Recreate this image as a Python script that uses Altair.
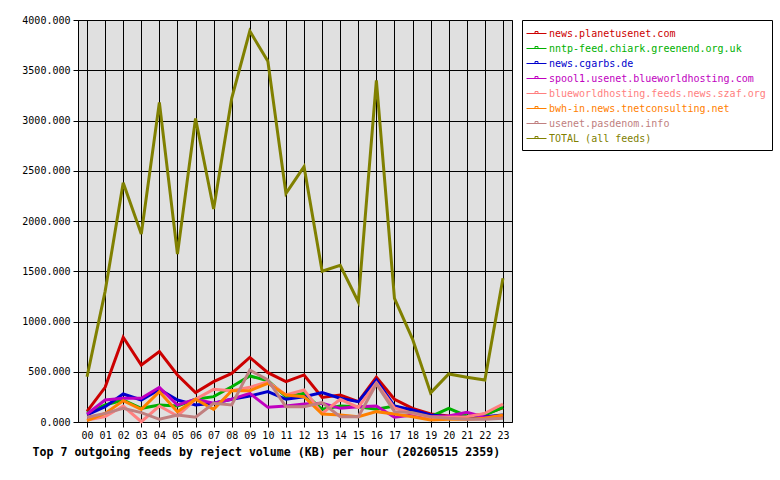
import altair as alt
import pandas as pd

hours = list(range(24))
series_names = [
    "news.planetusenet.com",
    "nntp-feed.chiark.greenend.org.uk",
    "news.cgarbs.de",
    "spool1.usenet.blueworldhosting.com",
    "blueworldhosting.feeds.news.szaf.org",
    "bwh-in.news.tnetconsulting.net",
    "usenet.pasdenom.info",
    "TOTAL (all feeds)",
]
series_colors = ["#cc0000", "#00b000", "#0000cc", "#c000c0", "#ff8080", "#ff8000", "#c08080", "#808000"]

planetusenet = [105, 345, 843, 567, 700, 468, 292, 401, 484, 643, 491, 401, 468, 245, 269, 202, 445, 226, 136, 80, 60, 53, 80, 140]
chiark = [90, 169, 219, 136, 169, 159, 226, 252, 351, 458, 411, 252, 285, 126, 159, 152, 126, 159, 103, 53, 136, 60, 70, 146]
cgarbs = [70, 152, 279, 219, 325, 219, 169, 186, 226, 259, 302, 226, 252, 292, 236, 202, 418, 159, 119, 70, 53, 47, 53, 70]
spool1 = [80, 219, 236, 236, 345, 169, 226, 186, 226, 285, 146, 159, 179, 186, 136, 152, 159, 47, 70, 53, 60, 96, 47, 53]
szaf = [20, 53, 159, 3, 159, 60, 226, 325, 312, 345, 401, 269, 318, 86, 226, 146, 391, 140, 86, 47, 47, 53, 86, 179]
tnet = [13, 86, 212, 126, 302, 103, 226, 126, 312, 312, 385, 269, 252, 80, 70, 53, 103, 80, 53, 20, 27, 27, 37, 70]
pasdenom = [47, 86, 136, 93, 27, 70, 47, 186, 169, 517, 418, 152, 152, 193, 53, 53, 378, 103, 93, 53, 37, 27, 27, 37]
total = [450, 1300, 2380, 1870, 3180, 1670, 3020, 2120, 3220, 3890, 3590, 2275, 2540, 1500, 1560, 1195, 3400, 1230, 825, 290, 478, 445, 418, 1430]

y_ticks = [0, 500, 1000, 1500, 2000, 2500, 3000, 3500, 4000]

all_series = [planetusenet, chiark, cgarbs, spool1, szaf, tnet, pasdenom, total]
rows = []
for order, (name, vals) in enumerate(zip(series_names, all_series)):
    for h, v in zip(hours, vals):
        rows.append({"feed": name, "hour": h, "kb": v, "order": order})
df = pd.DataFrame(rows)

FONT = "DejaVu Sans Mono"

chart = alt.Chart(df).mark_line(strokeWidth=3, strokeJoin="miter", strokeCap="butt").encode(
    x=alt.X(
        "hour:Q",
        scale=alt.Scale(domain=[-0.5, 23.5], nice=False, zero=False),
        axis=alt.Axis(
            values=hours,
            labelExpr="datum.value < 10 ? '0' + datum.value : '' + datum.value",
            title="Top 7 outgoing feeds by reject volume (KB) per hour (20260515 2359)",
            titleFont=FONT,
            titleFontSize=11.6,
            titleFontWeight="bold",
            titleColor="black",
            titleAnchor="start",
            titleAlign="left",
            titleX=-46,
            titleY=30,
            titleBaseline="middle",
            labelFont=FONT,
            labelFontSize=10,
            labelColor="black",
            labelPadding=3,
            tickSize=5,
            tickColor="black",
            grid=True,
            gridColor="black",
            gridOpacity=1,
            gridWidth=1,
            domain=False,
        ),
    ),
    y=alt.Y(
        "kb:Q",
        scale=alt.Scale(domain=[0, 4000], nice=False),
        axis=alt.Axis(
            values=y_ticks,
            format=".3f",
            title=None,
            labelFont=FONT,
            labelFontSize=10,
            labelColor="black",
            labelPadding=3,
            tickSize=5,
            tickColor="black",
            grid=True,
            gridColor="black",
            gridOpacity=1,
            gridWidth=1,
            domain=False,
        ),
    ),
    color=alt.Color(
        "feed:N",
        scale=alt.Scale(domain=series_names, range=series_colors),
        legend=alt.Legend(
            title=None,
            orient="none",
            legendX=444,
            legendY=0,
            strokeColor="black",
            fillColor="white",
            padding=6,
            symbolType="M-1.43,0H1.43M-0.21,0V-0.28H0.21V0",
            symbolSize=196,
            symbolOffset=1,
            symbolStrokeWidth=1,
            labelFont=FONT,
            labelFontSize=10,
            labelOffset=5,
            labelLimit=400,
            rowPadding=2,
            labelColor={"expr": "scale('color', datum.value)"},
        ),
    ),
    order=alt.Order("order:Q"),
).properties(
    width=434,
    height=402,
    autosize=alt.AutoSizeParams(type="none"),
    padding={"left": 78, "top": 20, "right": 268, "bottom": 58},
    background="white",
).configure_view(
    fill="#e0e0e0",
    stroke="black",
    strokeWidth=1,
)

chart.save("out.html", embed_options={"renderer": "svg", "actions": False})
